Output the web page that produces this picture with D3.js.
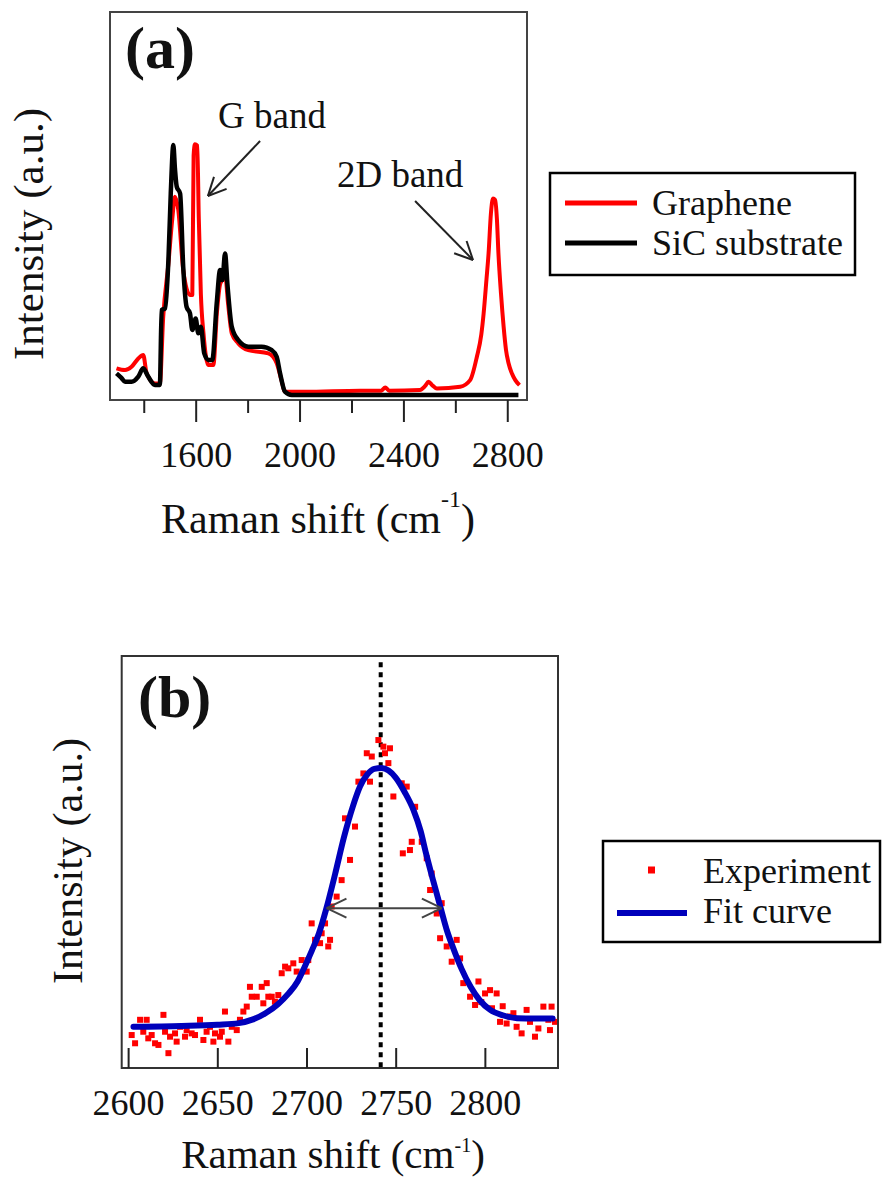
<!DOCTYPE html>
<html>
<head>
<meta charset="utf-8">
<script src="https://cdn.jsdelivr.net/npm/d3@7"></script>
</head>
<body style="margin:0; background:#fff">
<script>
// ---- panel (a) data : full Raman spectra ----
var sicWave = [1295, 1312, 1328, 1353, 1379, 1398, 1417, 1443, 1462, 1469,
  1482, 1495, 1504, 1514, 1520, 1527, 1540, 1552, 1565, 1578,
  1587, 1600, 1610, 1620, 1633, 1649, 1664, 1681, 1694, 1703,
  1713, 1723, 1739, 1764, 1803, 1854, 1893, 1912, 1925, 1944,
  1970, 2100, 2400, 2843];
var sicInt = [0.086, 0.07, 0.053, 0.053, 0.073, 0.106, 0.073, 0.040, 0.040, 0.337,
  0.344, 0.536, 0.8, 0.992, 0.9, 0.827, 0.800, 0.509, 0.350, 0.324,
  0.258, 0.304, 0.245, 0.271, 0.165, 0.139, 0.139, 0.364, 0.496, 0.456,
  0.562, 0.430, 0.271, 0.218, 0.192, 0.192, 0.178, 0.152, 0.086, 0.013,
  0, 0, 0, 0];

var grWave = [1295, 1328, 1353, 1379, 1398, 1411, 1443, 1462, 1475, 1495,
  1510, 1520, 1533, 1552, 1578, 1587, 1592, 1597, 1606, 1612,
  1620, 1630, 1649, 1668, 1682, 1694, 1705, 1713, 1725, 1739,
  1764, 1803, 1880, 1912, 1930, 1944, 2021, 2233, 2315, 2330,
  2345, 2464, 2483, 2497, 2510, 2529, 2619, 2657, 2683, 2700,
  2709, 2720, 2728, 2737, 2745, 2753, 2760, 2766, 2776, 2786,
  2795, 2805, 2818, 2831, 2847];
var grInt = [0.106, 0.099, 0.112, 0.145, 0.159, 0.086, 0.046, 0.046, 0.311, 0.522,
  0.70, 0.787, 0.734, 0.496, 0.397, 0.397, 0.95, 0.995, 0.99, 0.70,
  0.40, 0.245, 0.119, 0.119, 0.33, 0.44, 0.46, 0.48, 0.36, 0.245,
  0.205, 0.178, 0.165, 0.126, 0.06, 0.013, 0.013, 0.017, 0.017, 0.03,
  0.017, 0.020, 0.035, 0.053, 0.040, 0.026, 0.033, 0.059, 0.152, 0.24,
  0.324, 0.46, 0.562, 0.72, 0.78, 0.774, 0.70, 0.562, 0.40, 0.271,
  0.18, 0.126, 0.085, 0.059, 0.039];

var ticksA = [1600, 2000, 2400, 2800];
var minorA = [1400, 1800, 2200, 2600];
var legendA = ["Graphene", "SiC substrate"];

// ---- panel (b) data : 2D band and fit ----
var expWave = [2602.0, 2603.9, 2606.7, 2608.5, 2610.4, 2611.3, 2613.2, 2615.1, 2617.0, 2619.8,
  2620.7, 2622.6, 2623.5, 2626.3, 2627.2, 2629.1, 2631.9, 2632.8, 2635.6, 2637.5,
  2640.3, 2642.2, 2644.0, 2645.9, 2647.8, 2648.7, 2651.5, 2652.5, 2654.3, 2656.2,
  2658.1, 2660.9, 2662.7, 2664.6, 2666.5, 2668.3, 2669.3, 2672.1, 2674.9, 2675.8,
  2677.7, 2678.6, 2680.5, 2682.3, 2684.2, 2686.1, 2688.0, 2689.8, 2692.6, 2694.5,
  2697.3, 2700.1, 2701.0, 2702.9, 2704.8, 2707.6, 2708.5, 2710.4, 2712.2, 2713.2,
  2714.1, 2716.9, 2719.7, 2721.6, 2724.4, 2727.2, 2729.1, 2731.9, 2733.8, 2735.6,
  2736.6, 2740.3, 2743.1, 2744.0, 2745.9, 2746.8, 2748.7, 2753.4, 2754.0, 2756.2,
  2758.0, 2759.0, 2760.9, 2764.6, 2767.4, 2769.3, 2770.2, 2773.0, 2774.9, 2775.8,
  2778.6, 2781.4, 2784.2, 2786.1, 2787.9, 2791.7, 2794.5, 2796.4, 2798.0, 2800.1,
  2802.9, 2804.0, 2806.6, 2808.5, 2810.0, 2812.2, 2814.0, 2816.0, 2817.8, 2820.6,
  2823.4, 2825.3, 2828.1, 2830.0, 2832.8, 2835.6, 2836.5, 2837.4, 2839.3];
var expInt = [0.080, 0.060, 0.117, 0.088, 0.117, 0.072, 0.080, 0.060, 0.056, 0.129,
  0.088, 0.036, 0.076, 0.084, 0.064, 0.100, 0.076, 0.092, 0.084, 0.080,
  0.117, 0.068, 0.088, 0.100, 0.064, 0.084, 0.076, 0.088, 0.137, 0.064,
  0.100, 0.092, 0.117, 0.137, 0.149, 0.197, 0.173, 0.173, 0.197, 0.157,
  0.206, 0.173, 0.173, 0.161, 0.177, 0.230, 0.246, 0.242, 0.254, 0.234,
  0.262, 0.234, 0.262, 0.351, 0.311, 0.303, 0.327, 0.351, 0.295, 0.311,
  0.392, 0.416, 0.456, 0.606, 0.505, 0.586, 0.695, 0.715, 0.764, 0.695,
  0.756, 0.796, 0.780, 0.764, 0.740, 0.776, 0.659, 0.691, 0.521, 0.683,
  0.529, 0.549, 0.634, 0.549, 0.509, 0.432, 0.472, 0.375, 0.315, 0.400,
  0.295, 0.258, 0.311, 0.266, 0.206, 0.173, 0.153, 0.210, 0.160, 0.181,
  0.189, 0.145, 0.181, 0.112, 0.150, 0.108, 0.125, 0.133, 0.100, 0.084,
  0.141, 0.112, 0.076, 0.096, 0.149, 0.117, 0.092, 0.149, 0.112];

var fitWave = [2603, 2630, 2650, 2662, 2670, 2677, 2684, 2690, 2695, 2699,
  2703, 2707, 2711, 2716, 2721, 2726, 2730, 2734, 2738, 2742,
  2746, 2750, 2755, 2760, 2764, 2767, 2771, 2775, 2779, 2782,
  2787, 2792, 2797, 2803, 2810, 2818, 2828, 2838];
var fitInt = [0.100, 0.102, 0.105, 0.109, 0.118, 0.133, 0.155, 0.181, 0.210, 0.246,
  0.285, 0.327, 0.385, 0.470, 0.560, 0.635, 0.683, 0.712, 0.726, 0.728,
  0.722, 0.705, 0.670, 0.626, 0.575, 0.521, 0.455, 0.392, 0.330, 0.294,
  0.240, 0.197, 0.165, 0.141, 0.128, 0.121, 0.120, 0.120];

var ticksB = [2600, 2650, 2700, 2750, 2800];
var peakPos = 2741.6;
var fwhmEnds = [2711.3, 2775.8];
var fwhmLevel = 0.388;
var legendB = ["Experiment", "Fit curve"];

var FONT = "'Liberation Serif', 'Times New Roman', serif";
var W = 885, H = 1184;
var svg = d3.select("body").append("svg")
  .attr("width", W).attr("height", H)
  .style("font-family", FONT);
svg.append("rect").attr("width", W).attr("height", H).attr("fill", "#fff");

var zip = function(xs, ys) { return xs.map(function(x, i) { return [x, ys[i]]; }); };

function label(g, x, y, size, str) {
  return g.append("text").attr("x", x).attr("y", y).attr("font-size", size)
    .style("font-family", FONT).attr("fill", "#111").text(str);
}

// open V arrow head at (x2,y2) pointing away from (x1,y1)
function arrowHead(g, x1, y1, x2, y2, len, ang, col, sw) {
  var a = Math.atan2(y2 - y1, x2 - x1);
  [ang, -ang].forEach(function(d) {
    g.append("line")
      .attr("x1", x2).attr("y1", y2)
      .attr("x2", x2 - len * Math.cos(a + d))
      .attr("y2", y2 - len * Math.sin(a + d))
      .attr("stroke", col).attr("stroke-width", sw);
  });
}
function arrow(g, p1, p2, col, sw, len, both) {
  g.append("line").attr("x1", p1[0]).attr("y1", p1[1]).attr("x2", p2[0]).attr("y2", p2[1])
    .attr("stroke", col).attr("stroke-width", sw);
  arrowHead(g, p1[0], p1[1], p2[0], p2[1], len, 0.45, col, sw);
  if (both) arrowHead(g, p2[0], p2[1], p1[0], p1[1], len, 0.45, col, sw);
}

function styleAxis(a) {
  a.select(".domain").remove();
  a.selectAll("line").attr("stroke", "#222").attr("stroke-width", 2);
  a.selectAll("text").attr("font-size", 36).attr("fill", "#111").style("font-family", FONT);
}

// ================= panel (a) =================
var ga = svg.append("g");
var xA = d3.scaleLinear().domain([1270, 2876]).range([110, 527]);
var yA = d3.scaleLinear().domain([-0.0198, 1.52]).range([400, 12]);

var lineA = d3.line().x(function(d) { return xA(d[0]); }).y(function(d) { return yA(d[1]); })
  .curve(d3.curveMonotoneX);

ga.append("path").datum(zip(grWave, grInt)).attr("d", lineA)
  .attr("fill", "none").attr("stroke", "#ff0000").attr("stroke-width", 4)
  .attr("stroke-linejoin", "round");
ga.append("path").datum(zip(sicWave, sicInt)).attr("d", lineA)
  .attr("fill", "none").attr("stroke", "#000").attr("stroke-width", 4.5)
  .attr("stroke-linejoin", "round");

ga.append("rect").attr("x", 110).attr("y", 12).attr("width", 417).attr("height", 388)
  .attr("fill", "none").attr("stroke", "#444").attr("stroke-width", 2);

var axA = ga.append("g").attr("transform", "translate(0,400)")
  .call(d3.axisBottom(xA).tickValues(ticksA).tickSize(22).tickPadding(19).tickFormat(d3.format("d")));
var axAm = ga.append("g").attr("transform", "translate(0,400)")
  .call(d3.axisBottom(xA).tickValues(minorA).tickSize(13).tickFormat(""));
styleAxis(axA);
styleAxis(axAm);

var tA = label(ga, 318, 533, 42, null).attr("text-anchor", "middle");
tA.append("tspan").text("Raman shift (cm");
tA.append("tspan").attr("font-size", 24).attr("dy", -26).text("-1");
tA.append("tspan").attr("dy", 26).text(")");

label(ga, 0, 0, 43, "Intensity (a.u.)").attr("transform", "translate(43,234) rotate(-90)")
  .attr("text-anchor", "middle");

label(ga, 125, 68, 60, "(a)").attr("font-weight", "bold");

label(ga, xA(1686), yA(1.06), 37, "G band");
arrow(ga, [xA(1848), yA(1.008)], [xA(1647), yA(0.79)], "#222", 2, 20);
label(ga, xA(2144), yA(0.825), 37, "2D band");
arrow(ga, [xA(2445), yA(0.77)], [xA(2668), yA(0.536)], "#222", 2, 20);

// legend (a)
var lgA = ga.append("g");
lgA.append("rect").attr("x", 550).attr("y", 173).attr("width", 305).attr("height", 102)
  .attr("fill", "#fff").attr("stroke", "#000").attr("stroke-width", 2.5);
var colA = ["#ff0000", "#000"];
legendA.forEach(function(name, i) {
  var y = 203 + i * 40;
  lgA.append("line").attr("x1", 565).attr("x2", 637).attr("y1", y).attr("y2", y)
    .attr("stroke", colA[i]).attr("stroke-width", 5);
  label(lgA, 652, y + 12, 36, name);
});

// ================= panel (b) =================
var gb = svg.append("g");
var xB = d3.scaleLinear().domain([2596.4, 2841]).range([121.7, 558]);
var yB = d3.scaleLinear().domain([0, 1]).range([1068, 656]);

gb.append("line").attr("x1", xB(peakPos)).attr("x2", xB(peakPos))
  .attr("y1", yB(0.985)).attr("y2", yB(0))
  .attr("stroke", "#000").attr("stroke-width", 4).attr("stroke-dasharray", "5,5");

gb.selectAll("rect.pt").data(zip(expWave, expInt)).enter().append("rect")
  .attr("class", "pt")
  .attr("x", function(d) { return xB(d[0]) - 3; })
  .attr("y", function(d) { return yB(d[1]) - 3; })
  .attr("width", 6).attr("height", 6).attr("fill", "#ff0000");

var lineB = d3.line().x(function(d) { return xB(d[0]); }).y(function(d) { return yB(d[1]); })
  .curve(d3.curveMonotoneX);
gb.append("path").datum(zip(fitWave, fitInt)).attr("d", lineB)
  .attr("fill", "none").attr("stroke", "#0000bb").attr("stroke-width", 6)
  .attr("stroke-linecap", "round");

arrow(gb, [xB(fwhmEnds[0]), yB(fwhmLevel)], [xB(fwhmEnds[1]), yB(fwhmLevel)], "#444", 2, 22, true);

gb.append("rect").attr("x", 121.7).attr("y", 656).attr("width", 436.3).attr("height", 412)
  .attr("fill", "none").attr("stroke", "#333").attr("stroke-width", 2);

var axB = gb.append("g").attr("transform", "translate(0,1068)")
  .call(d3.axisBottom(xB).tickValues(ticksB).tickSize(-20).tickPadding(21).tickFormat(d3.format("d")));
styleAxis(axB);

var tB = label(gb, 333, 1168, 41, null).attr("text-anchor", "middle");
tB.append("tspan").text("Raman shift (cm");
tB.append("tspan").attr("font-size", 20).attr("dy", -16).text("-1");
tB.append("tspan").attr("dy", 16).text(")");

label(gb, 0, 0, 42, "Intensity (a.u.)").attr("transform", "translate(82,861) rotate(-90)")
  .attr("text-anchor", "middle");

label(gb, 138, 717, 60, "(b)").attr("font-weight", "bold");

// legend (b)
var lgB = gb.append("g");
lgB.append("rect").attr("x", 603).attr("y", 841).attr("width", 277).attr("height", 101)
  .attr("fill", "#fff").attr("stroke", "#000").attr("stroke-width", 2.5);
lgB.append("rect").attr("x", 648).attr("y", 866.5).attr("width", 7).attr("height", 7).attr("fill", "#ff0000");
lgB.append("line").attr("x1", 617).attr("x2", 687).attr("y1", 913).attr("y2", 913)
  .attr("stroke", "#0000bb").attr("stroke-width", 6);
legendB.forEach(function(name, i) {
  label(lgB, 703, 883 + i * 40, 36, name);
});
</script>
</body>
</html>
